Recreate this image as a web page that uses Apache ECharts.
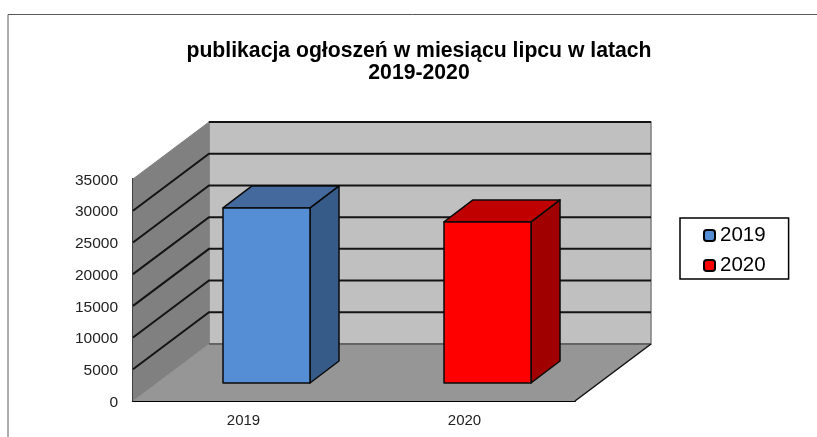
<!DOCTYPE html>
<html>
<head>
<meta charset="utf-8">
<title>publikacja ogłoszeń</title>
<style>
    html, body { margin: 0; padding: 0; background: #fff; }
    #chart { width: 817px; height: 437px; }
</style>
<script src="https://cdn.jsdelivr.net/npm/echarts@6/dist/echarts.min.js"></script>
</head>
<body>
<div id="chart"></div>
<script>
var titleText = 'publikacja ogłoszeń w miesiącu lipcu w latach\n2019-2020';
var categories = ['2019', '2020'];
var seriesNames = ['2019', '2020'];
var values2019 = [27600];
var values2020 = [25400];
var yTicks = [5000, 10000, 15000, 20000, 25000, 30000, 35000];

// glebokosc "3D" w pikselach
var wallDx = 76, wallDy = -57;
var barOffX = 23, barOffY = -18;
var barDx = 29, barDy = -22;
var barWidth = 87;

var fontName = '"Liberation Sans", Arial, sans-serif';
var myChart = echarts.init(document.getElementById('chart'));

// sciany i podloga
function renderWalls(params, api) {
    var cs = params.coordSys;
    var x0 = cs.x, x1 = cs.x + cs.width, yTop = cs.y, yBot = cs.y + cs.height;
    return {
        type: 'group',
        children: [
            {
                type: 'polygon',
                shape: { points: [[x0 + wallDx, yTop + wallDy], [x1 + wallDx, yTop + wallDy], [x1 + wallDx, yBot + wallDy], [x0 + wallDx, yBot + wallDy]] },
                style: { fill: '#c0c0c0', stroke: '#808080', lineWidth: 1.5 }
            },
            {
                type: 'polygon',
                shape: { points: [[x0, yTop], [x0 + wallDx, yTop + wallDy], [x0 + wallDx, yBot + wallDy], [x0, yBot]] },
                style: { fill: '#808080', stroke: '#808080', lineWidth: 1 }
            },
            {
                type: 'polygon',
                shape: { points: [[x0, yBot], [x1, yBot], [x1 + wallDx, yBot + wallDy], [x0 + wallDx, yBot + wallDy]] },
                style: { fill: '#969696' }
            },
            {
                type: 'line',
                shape: { x1: x0 + wallDx, y1: yBot + wallDy, x2: x1 + wallDx, y2: yBot + wallDy },
                style: { stroke: '#555', lineWidth: 1.5 }
            },
            {
                type: 'line',
                shape: { x1: x1, y1: yBot, x2: x1 + wallDx, y2: yBot + wallDy },
                style: { stroke: '#111', lineWidth: 1.5 }
            }
        ]
    };
}

// linie siatki na obu scianach (gorna linia tylko na tylnej scianie)
function renderGridLine(params, api) {
    var p = api.coord([0, api.value(0)]);
    var cs = params.coordSys;
    var xa = cs.x, xb = cs.x + wallDx, xc = cs.x + cs.width + wallDx;
    var pts = [[xa, p[1]], [xb, p[1] + wallDy], [xc, p[1] + wallDy]];
    if (api.value(0) === yTicks[yTicks.length - 1]) {
        pts.shift();
    }
    return {
        type: 'polyline',
        shape: { points: pts },
        style: { fill: 'none', stroke: '#141414', lineWidth: 2 }
    };
}

function makeBarRender(front, top, side) {
    return function (params, api) {
        var tp = api.coord([api.value(0), api.value(1)]);
        var bt = api.coord([api.value(0), 0]);
        var xl = tp[0] + barOffX - barWidth / 2;
        var xr = xl + barWidth;
        var yt = tp[1] + barOffY;
        var yb = bt[1] + barOffY;
        var edge = { stroke: '#0a0a0a', lineWidth: 1.5, lineJoin: 'round' };
        return {
            type: 'group',
            children: [
                {
                    type: 'polygon',
                    shape: { points: [[xr, yt], [xr + barDx, yt + barDy], [xr + barDx, yb + barDy], [xr, yb]] },
                    style: echarts.util.extend({ fill: side }, edge)
                },
                {
                    type: 'polygon',
                    shape: { points: [[xl, yt], [xl + barDx, yt + barDy], [xr + barDx, yt + barDy], [xr, yt]] },
                    style: echarts.util.extend({ fill: top }, edge)
                },
                {
                    type: 'rect',
                    shape: { x: xl, y: yt, width: barWidth, height: yb - yt },
                    style: echarts.util.extend({ fill: front }, edge)
                }
            ]
        };
    };
}

var option = {
    animation: false,
    backgroundColor: '#fff',
    title: {
        text: titleText,
        left: 414,
        top: 35,
        textAlign: 'center',
        textStyle: { fontFamily: fontName, fontSize: 21.2, fontWeight: 'bold', color: '#000', lineHeight: 22 }
    },
    legend: {
        orient: 'vertical',
        left: 680,
        top: 218,
        padding: [7, 23, 3, 23],
        itemGap: 9,
        itemWidth: 11,
        itemHeight: 11,
        backgroundColor: '#fff',
        borderColor: '#000',
        borderWidth: 1.5,
        borderRadius: 0,
        textStyle: { fontFamily: fontName, fontSize: 20.5, color: '#000' },
        data: [
            { name: seriesNames[0], icon: 'roundRect', itemStyle: { color: '#558ed5', borderColor: '#000', borderWidth: 2 } },
            { name: seriesNames[1], icon: 'roundRect', itemStyle: { color: '#ff0000', borderColor: '#000', borderWidth: 2 } }
        ]
    },
    grid: { left: 133, right: 242, top: 179, bottom: 36 },
    xAxis: {
        type: 'category',
        data: categories,
        axisTick: { show: false },
        axisLine: { show: true, lineStyle: { color: '#000', width: 2 } },
        axisLabel: { fontFamily: fontName, fontSize: 15, color: '#222', margin: 12 }
    },
    yAxis: {
        type: 'value',
        min: 0,
        max: 35000,
        interval: 5000,
        axisTick: { show: false },
        axisLine: { show: true, lineStyle: { color: '#000', width: 2 } },
        splitLine: { show: false },
        axisLabel: {
            fontFamily: fontName,
            fontSize: 15.5,
            color: '#222',
            margin: 15,
            verticalAlign: 'top',
            lineHeight: 3,
            formatter: function (v) { return String(v); }
        }
    },
    series: [
        {
            type: 'custom',
            name: 'walls',
            silent: true,
            clip: false,
            z: 1,
            renderItem: renderWalls,
            data: [[0, 0]]
        },
        {
            type: 'custom',
            name: 'gridlines',
            silent: true,
            clip: false,
            z: 2,
            encode: { y: 0 },
            renderItem: renderGridLine,
            data: yTicks.map(function (v) { return [v]; })
        },
        {
            type: 'custom',
            name: seriesNames[0],
            clip: false,
            z: 3,
            itemStyle: { color: '#558ed5' },
            encode: { x: 0, y: 1 },
            renderItem: makeBarRender('#558ed5', '#44699c', '#365b89'),
            data: values2019.map(function (v) { return [categories[0], v]; })
        },
        {
            type: 'custom',
            name: seriesNames[1],
            clip: false,
            z: 4,
            itemStyle: { color: '#ff0000' },
            encode: { x: 0, y: 1 },
            renderItem: makeBarRender('#ff0000', '#c00000', '#a00000'),
            data: values2020.map(function (v) { return [categories[1], v]; })
        }
    ],
    graphic: [
        {
            type: 'polyline',
            silent: true,
            shape: { points: [[8, 437], [8, 14.5], [817, 14.5]] },
            style: { fill: 'none', stroke: '#5a5a5a', lineWidth: 1 }
        }
    ]
};
myChart.setOption(option);
</script>
</body>
</html>
